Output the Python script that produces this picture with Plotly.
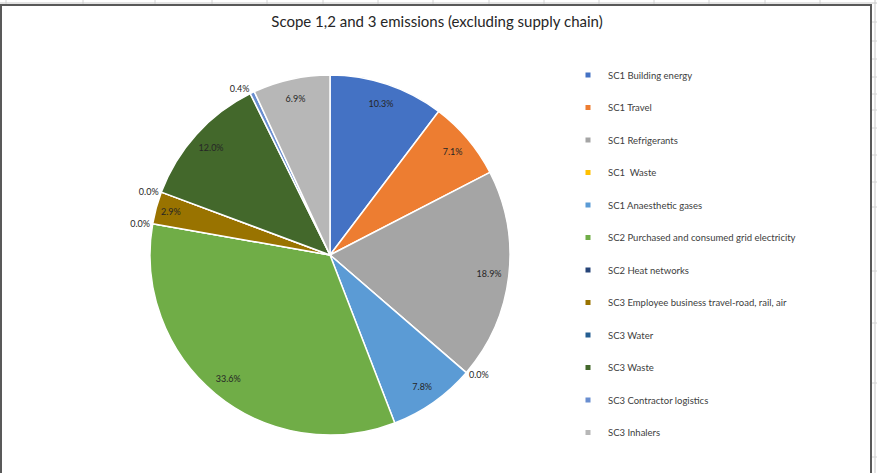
import plotly.graph_objects as go

W, H = 877, 473

# ---- data ----
labels = [
    "SC1 Building energy",
    "SC1 Travel",
    "SC1 Refrigerants",
    "SC1  Waste",
    "SC1 Anaesthetic gases",
    "SC2 Purchased and consumed grid electricity",
    "SC2 Heat networks",
    "SC3 Employee business travel-road, rail, air",
    "SC3 Water",
    "SC3 Waste",
    "SC3 Contractor logistics",
    "SC3 Inhalers",
]
shares = [10.3, 7.1, 18.9, 0.0, 7.8, 33.6, 0.0, 2.9, 0.0, 12.0, 0.4, 6.9]
colors = [
    "#4472C4", "#ED7D31", "#A5A5A5", "#FFC000", "#5B9BD5", "#70AD47",
    "#264478", "#997300", "#255E91", "#43682B", "#698ED0", "#B7B7B7",
]
title_text = "Scope 1,2 and 3 emissions (excluding supply chain)"


def px(x):
    return x / W


def py(y):
    return 1 - y / H


FONT = "Lato, 'Open Sans', sans-serif"
TXT = "#404040"
LBL = "#262626"

pie_domain = dict(x=[px(150), px(510)], y=[py(435), py(75)])

fig = go.Figure()

# coloured pie
fig.add_trace(go.Pie(
    values=shares, labels=labels, sort=False, direction="clockwise", rotation=0,
    marker=dict(colors=colors, line=dict(color="white", width=1.5)),
    textinfo="none", showlegend=False, domain=pie_domain,
    hovertemplate="%{label}: %{value:.1f}%<extra></extra>",
))

# label ring (transparent) so inside labels sit near the rim like Excel
textpos = ["outside" if v < 1 else "inside" for v in shares]
fig.add_trace(go.Pie(
    values=shares, labels=labels, sort=False, direction="clockwise", rotation=0,
    hole=0.78,
    marker=dict(colors=["rgba(0,0,0,0)"] * len(shares), line=dict(width=0)),
    texttemplate="%{value:.1f}%", textposition=textpos,
    insidetextorientation="horizontal",
    textfont=dict(family=FONT, size=9, color=LBL),
    showlegend=False, domain=pie_domain, hoverinfo="skip",
))

# legend entries
for lab, col in zip(labels, colors):
    fig.add_trace(go.Scatter(
        x=[None], y=[None], mode="markers", name=lab, legendgroup=lab,
        marker=dict(symbol="square", size=5, color=col),
        showlegend=True, hoverinfo="skip",
    ))

shapes = []
# spreadsheet grid behind the chart
grid_x = [6, 83, 155, 212, 267, 323, 378, 433, 489, 544, 599, 654, 709, 765, 820]
for gx in grid_x:
    shapes.append(dict(type="line", xref="paper", yref="paper",
                       x0=px(gx), x1=px(gx), y0=py(0), y1=py(5),
                       line=dict(color="#d4d4d4", width=1)))
shapes.append(dict(type="line", xref="paper", yref="paper",
                   x0=0, x1=1, y0=py(3), y1=py(3),
                   line=dict(color="#c8c8c8", width=1)))
shapes.append(dict(type="line", xref="paper", yref="paper",
                   x0=px(875), x1=px(875), y0=0, y1=1,
                   line=dict(color="#c8c8c8", width=1)))
for gy in [22, 41, 59, 77, 94, 110, 128, 155, 182, 207, 271, 323, 383, 457]:
    shapes.append(dict(type="line", xref="paper", yref="paper",
                       x0=px(872), x1=px(877), y0=py(gy), y1=py(gy),
                       line=dict(color="#d4d4d4", width=1)))
# chart border
shapes.append(dict(type="rect", xref="paper", yref="paper",
                   x0=px(1), x1=px(871), y0=py(480), y1=py(5),
                   line=dict(color="#595959", width=2), fillcolor="rgba(0,0,0,0)"))

fig.update_layout(
    width=W, height=H,
    margin=dict(l=0, r=0, t=0, b=0),
    paper_bgcolor="white", plot_bgcolor="white",
    title=dict(text=title_text, x=px(437), y=py(22), xanchor="center", yanchor="middle",
               font=dict(family=FONT, size=15, color="#262626")),
    xaxis=dict(visible=False, domain=[0.99, 1.0]),
    yaxis=dict(visible=False, domain=[0.99, 1.0]),
    legend=dict(x=px(568), y=py(60.5), xanchor="left", yanchor="top",
                traceorder="grouped", tracegroupgap=13.5,
                font=dict(family=FONT, size=9.5, color=TXT),
                bgcolor="rgba(0,0,0,0)", borderwidth=0),
    shapes=shapes,
    showlegend=True,
)

fig.write_html(
    "out.html",
    config={"displayModeBar": False},
    post_script="document.body.style.margin='0';document.body.style.overflow='hidden';",
)
